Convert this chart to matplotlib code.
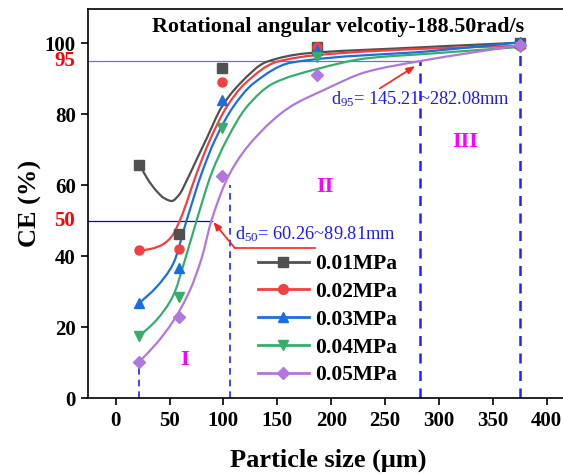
import numpy as np
import matplotlib
matplotlib.use("Agg")
import matplotlib.pyplot as plt
from matplotlib.path import Path
from matplotlib.patches import PathPatch
from matplotlib.lines import Line2D

plt.rcParams['font.family'] = ['Liberation Serif', 'DejaVu Serif']
plt.rcParams['mathtext.default'] = 'regular'

# measured points
size_x = [22, 59, 99, 187, 375]
ce_001 = [65.7, 46.2, 93.0, 99.0, 100.0]
ce_002 = [41.8, 42.0, 89.2, 99.0, 99.2]
ce_003 = [26.8, 36.6, 84.0, 98.1, 100.3]
ce_004 = [17.5, 28.6, 76.3, 96.1, 99.0]
ce_005 = [10.3, 23.0, 62.6, 91.1, 99.5]

# fitted curves (knots)
fit_x_001 = [22.5, 30, 38, 45, 52, 59, 66, 75, 84.4, 98.4, 115.4, 140, 177, 262, 375]
fit_y_001 = [65.7, 61.6, 58.4, 56.4, 55.6, 57.4, 61.4, 67.2, 73.2, 82.1, 88.7, 94.8, 97.2, 98.6, 100.2]
fit_x_002 = [22.5, 34, 44, 52, 59.7, 75.2, 87.5, 103, 120, 149.4, 186.5, 294.8, 375]
fit_y_002 = [41.6, 42.2, 43.4, 45.6, 50.2, 63.4, 72.8, 82.1, 88.7, 94.8, 96.7, 98.6, 99.3]
fit_x_003 = [21.9, 38, 53.5, 65.9, 79.8, 92.2, 109, 127.7, 163, 294.8, 375]
fit_y_003 = [26.8, 31.4, 38.0, 50.2, 63.4, 72.8, 82.1, 88.7, 94.6, 97.9, 100.3]
fit_x_004 = [21.9, 38, 53.5, 64.3, 75.2, 89, 103, 121.6, 146, 187, 233, 294.8, 375]
fit_y_004 = [17.5, 22.1, 29.0, 39.0, 50.2, 63.4, 72.8, 82.1, 88.7, 92.8, 95.8, 97.2, 99.0]
fit_x_005 = [21.9, 38, 53.5, 69, 79.8, 89, 106, 127.7, 161.8, 192.7, 233, 282, 375]
fit_y_005 = [10.3, 15.5, 21.8, 30.5, 39.5, 50.2, 63.4, 72.8, 82.1, 86.8, 92.0, 95.0, 99.5]

labels = ["0.01MPa", "0.02MPa", "0.03MPa", "0.04MPa", "0.05MPa"]
colors = ["#515151", "#F14040", "#1A6FDF", "#37AD6B", "#B177DE"]
markers = ["s", "o", "^", "v", "D"]

d50 = [60.26, 89.81]
d95 = [145.21, 282.08]
bound_x = [22, 106, 282.08, 375]
bound_top = [10.3, 60, 95, 100]

xmin, xmax = -25.4, 420
ymin, ymax = 0, 109.7


def smooth_path(xs, ys):
    # piecewise cubic hermite (pchip-like slopes) as bezier segments
    xs = np.asarray(xs, float)
    ys = np.asarray(ys, float)
    h = np.diff(xs)
    d = np.diff(ys) / h
    m = np.zeros(len(xs))
    m[0], m[-1] = d[0], d[-1]
    for i in range(1, len(xs) - 1):
        if d[i - 1] * d[i] > 0:
            w1 = 2 * h[i] + h[i - 1]
            w2 = h[i] + 2 * h[i - 1]
            m[i] = (w1 + w2) / (w1 / d[i - 1] + w2 / d[i])
    verts = [(xs[0], ys[0])]
    codes = [Path.MOVETO]
    for i in range(len(h)):
        verts += [(xs[i] + h[i] / 3, ys[i] + m[i] * h[i] / 3),
                  (xs[i + 1] - h[i] / 3, ys[i + 1] - m[i + 1] * h[i] / 3),
                  (xs[i + 1], ys[i + 1])]
        codes += [Path.CURVE4] * 3
    return Path(verts, codes)


fig = plt.figure(figsize=(5.63, 4.74), dpi=100)
ax = fig.add_axes([0.1568, 0.1597, 480 / 563, 0.8213])

series = [ce_001, ce_002, ce_003, ce_004, ce_005]
fits = [(fit_x_001, fit_y_001), (fit_x_002, fit_y_002), (fit_x_003, fit_y_003),
        (fit_x_004, fit_y_004), (fit_x_005, fit_y_005)]

# region boundaries
for i, (bx, bt) in enumerate(zip(bound_x, bound_top)):
    lw = 1.2 if i < 2 else 1.8
    ax.plot([bx, bx], [0, bt], color="#2222ff", lw=lw, ls=(0, (4, 3)), zorder=1)

# d50 / d95 lines
ax.plot([xmin, d50[1]], [50, 50], color="#0000ee", lw=0.9, zorder=2)
ax.plot([xmin, d95[1]], [95, 95], color="#6a6aff", lw=0.9, zorder=2)

for (fx, fy), c in zip(fits, colors):
    ax.add_patch(PathPatch(smooth_path(fx, fy), fc="none", ec=c, lw=1.6, zorder=3))

for y, c, mk in zip(series, colors, markers):
    ms = 5.8 if mk == "D" else 6.5
    ax.plot(size_x, y, ls="none", marker=mk, color=c, ms=ms, zorder=4)

# annotations
ax.plot([110.7, 185], [42.3, 42.3], color="#ff2020", lw=1.2, zorder=2)
ax.annotate("", xy=(90.6, 49.7), xytext=(110.7, 42.3),
            arrowprops=dict(arrowstyle="-|>,head_length=0.5,head_width=0.2",
                            color="#ff2020", lw=1.2, shrinkA=0, shrinkB=0))
ax.text(110.7, 46.3, "d$_{%s}$= %.2f~%.2fmm" % ("50", d50[0], d50[1]),
        color="#1a1aff", fontsize=13.2, va="center", ha="left")
ax.annotate("", xy=(277.8, 93.6), xytext=(245, 87.3),
            arrowprops=dict(arrowstyle="-|>,head_length=0.5,head_width=0.2",
                            color="#ff2020", lw=1.2, shrinkA=0, shrinkB=0))
ax.text(200, 84.2, "d$_{%s}$= %.2f~%.2fmm" % ("95", d95[0], d95[1]),
        color="#1a1aff", fontsize=13.2, va="center", ha="left")

ax.text(206.3, 104.7, "Rotational angular velcotiy-188.50rad/s",
        fontsize=15.8, fontweight="bold", ha="center", va="center")
for t, (tx, ty) in zip(["I", "II", "III"], [(64.3, 10.8), (194, 59.6), (324, 72.3)]):
    ax.text(tx, ty, t, color="#ff00ff", fontsize=16, fontweight="bold",
            ha="center", va="center")

# red extra y labels
for v in [50, 95]:
    ax.text(-0.028, v, str(v), transform=ax.get_yaxis_transform(),
            color="#ff0000", fontsize=15, fontweight="bold", ha="right", va="center")

ax.set_xlim(xmin, xmax)
ax.set_ylim(ymin, ymax)
ax.set_xticks(np.arange(0, 401, 50))
ax.set_yticks(np.arange(0, 101, 20))
ax.tick_params(direction="out", length=5, width=1.2, labelsize=15, pad=4)
for lab in ax.get_xticklabels() + ax.get_yticklabels():
    lab.set_fontweight("bold")
ax.spines["right"].set_visible(False)
for s in ["left", "bottom", "top"]:
    ax.spines[s].set_linewidth(1.2)

ax.set_xlabel("Particle size (μm)", fontsize=19, fontweight="bold", labelpad=13)
ax.set_ylabel("CE (%)", fontsize=19, fontweight="bold", labelpad=2)

handles = [Line2D([], [], color=c, marker=mk, lw=2, ms=7 if mk != "D" else 6.3)
           for c, mk in zip(colors, markers)]
leg = ax.legend(handles, labels, loc="upper left", bbox_to_anchor=(258 / 563, 1 - 254 / 474),
                bbox_transform=fig.transFigure, frameon=False, borderpad=0,
                borderaxespad=0, handlelength=2.35, handletextpad=0.3,
                labelspacing=0.36, prop=dict(size=15.5, weight="bold"))

fig.savefig("out.png", dpi=100)
